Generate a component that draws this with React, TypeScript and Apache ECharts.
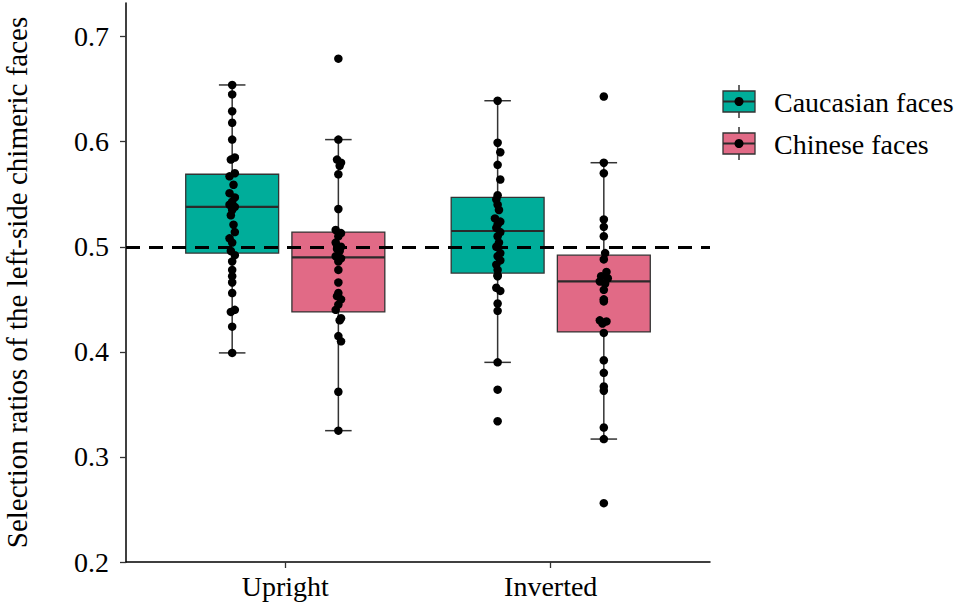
import React, { useEffect, useRef } from "react";
import * as echarts from "echarts";

const categories = ["Upright", "Inverted"];
const groupNames = ["Caucasian faces", "Chinese faces"];
const groupColors = ["#00AD9A", "#E16A86"];
const categoryPositions = [1, 2];
const dodge = [-0.2, 0.2];

// box statistics: [lower whisker, Q1, median, Q3, upper whisker]
const caucasianBoxes = [
  [0.399, 0.494, 0.538, 0.569, 0.654],
  [0.39, 0.475, 0.515, 0.547, 0.639],
];
const chineseBoxes = [
  [0.325, 0.438, 0.49, 0.514, 0.602],
  [0.317, 0.419, 0.467, 0.492, 0.58],
];

// individual participants
const caucasianUpright = [
  0.654, 0.645, 0.629, 0.618, 0.602, 0.585, 0.583, 0.57, 0.567, 0.559, 0.551, 0.547, 0.543, 0.54,
  0.538, 0.535, 0.53, 0.521, 0.514, 0.508, 0.504, 0.496, 0.492, 0.486, 0.478, 0.472, 0.466, 0.456,
  0.44, 0.438, 0.424, 0.399,
];
const caucasianUprightJitter = [
  0, 0, 0, 0, 0, 0.01, -0.005, 0.01, -0.01, 0.005, -0.01, 0.01, 0, -0.01, 0.01, 0, -0.005, 0.005,
  0.01, -0.01, 0, -0.005, 0.01, 0, 0, 0, 0, 0, 0.01, -0.005, 0, 0,
];
const chineseUpright = [
  0.679, 0.602, 0.583, 0.58, 0.577, 0.569, 0.536, 0.516, 0.513, 0.51, 0.504, 0.5, 0.498, 0.496,
  0.491, 0.489, 0.486, 0.478, 0.466, 0.456, 0.453, 0.45, 0.445, 0.44, 0.432, 0.43, 0.415, 0.41,
  0.362, 0.325,
];
const chineseUprightJitter = [
  0, 0, -0.005, 0.01, 0.005, 0, 0, -0.01, 0.01, 0, -0.01, 0.01, -0.005, 0.005, -0.01, 0.01, 0, 0,
  0, 0, -0.005, 0.01, 0, -0.01, 0.01, 0.005, 0, 0.01, 0, 0,
];
const caucasianInverted = [
  0.639, 0.599, 0.59, 0.578, 0.564, 0.549, 0.545, 0.54, 0.535, 0.527, 0.524, 0.521, 0.518, 0.514,
  0.51, 0.504, 0.5, 0.494, 0.491, 0.487, 0.483, 0.478, 0.473, 0.472, 0.461, 0.458, 0.446, 0.439,
  0.39, 0.364, 0.334,
];
const caucasianInvertedJitter = [
  0, 0, 0.01, 0, 0.01, 0, -0.005, 0, 0.005, -0.01, 0.01, 0, -0.005, 0.01, 0, 0.005, -0.005, 0.01,
  0, 0.01, -0.005, 0, 0, 0, -0.005, 0.01, 0, 0, 0, 0, 0,
];
const chineseInverted = [
  0.643, 0.58, 0.57, 0.526, 0.519, 0.51, 0.494, 0.488, 0.476, 0.472, 0.47, 0.467, 0.465, 0.459,
  0.45, 0.448, 0.43, 0.429, 0.427, 0.418, 0.392, 0.38, 0.367, 0.363, 0.328, 0.317, 0.256,
];
const chineseInvertedJitter = [
  0, 0, 0, 0, 0, 0, 0.005, 0, 0.01, -0.01, 0.015, -0.015, 0.005, 0, 0, 0, -0.015, 0.01, -0.005, 0,
  0, 0, 0, 0, 0, 0, 0,
];

const yTicks = [0.2, 0.3, 0.4, 0.5, 0.6, 0.7];
const referenceLine = 0.5;

const FONT = "'Liberation Serif', 'Times New Roman', serif";

export default function App() {
  const ref = useRef<HTMLDivElement>(null);

  useEffect(() => {
    if (!ref.current) return;
    const chart = echarts.init(ref.current, null, { renderer: "svg" });

    const boxSets = [caucasianBoxes, chineseBoxes];
    const pointSets = [
      [caucasianUpright, caucasianInverted],
      [chineseUpright, chineseInverted],
    ];
    const jitterSets = [
      [caucasianUprightJitter, caucasianInvertedJitter],
      [chineseUprightJitter, chineseInvertedJitter],
    ];

    const renderBox = (color: string) => (params: any, api: any) => {
      const x = api.value(0);
      const lo = api.coord([x, api.value(1)]);
      const q1 = api.coord([x, api.value(2)]);
      const med = api.coord([x, api.value(3)]);
      const q3 = api.coord([x, api.value(4)]);
      const hi = api.coord([x, api.value(5)]);
      const bw = api.size([0.35, 0])[0];
      const cw = api.size([0.1, 0])[0];
      const cx = lo[0];
      const stroke = "#333333";
      return {
        type: "group",
        children: [
          { type: "line", shape: { x1: cx, y1: hi[1], x2: cx, y2: lo[1] }, style: { stroke, lineWidth: 1.5 } },
          { type: "line", shape: { x1: cx - cw / 2, y1: hi[1], x2: cx + cw / 2, y2: hi[1] }, style: { stroke, lineWidth: 1.5 } },
          { type: "line", shape: { x1: cx - cw / 2, y1: lo[1], x2: cx + cw / 2, y2: lo[1] }, style: { stroke, lineWidth: 1.5 } },
          {
            type: "rect",
            shape: { x: cx - bw / 2, y: q3[1], width: bw, height: q1[1] - q3[1] },
            style: { fill: color, stroke, lineWidth: 1.3 },
          },
          {
            type: "line",
            shape: { x1: cx - bw / 2, y1: med[1], x2: cx + bw / 2, y2: med[1] },
            style: { stroke: "#2a2a2a", lineWidth: 2.2 },
          },
        ],
      };
    };

    const series: any[] = [];
    groupNames.forEach((name, g) => {
      series.push({
        type: "custom",
        name,
        renderItem: renderBox(groupColors[g]),
        encode: { x: 0, y: [1, 2, 3, 4, 5] },
        data: boxSets[g].map((b, c) => [categoryPositions[c] + dodge[g], ...b]),
        z: 2,
        silent: true,
        ...(g === 1
          ? {
              markLine: {
                silent: true,
                symbol: ["none", "none"],
                label: { show: false },
                lineStyle: { type: [14, 9], width: 3, color: "#000" },
                data: [{ yAxis: referenceLine }],
                z: 3,
              },
            }
          : {}),
      });
    });
    groupNames.forEach((name, g) => {
      const data: number[][] = [];
      categories.forEach((_, c) => {
        pointSets[g][c].forEach((v, i) => {
          data.push([categoryPositions[c] + dodge[g] + (jitterSets[g][c][i] || 0), v]);
        });
      });
      series.push({
        type: "scatter",
        name: name + " points",
        data,
        symbolSize: 8.5,
        itemStyle: { color: "#000", opacity: 1 },
        z: 5,
        silent: true,
      });
    });

    const legendGraphics = groupNames.map((name, i) => ({
      type: "group",
      x: 723,
      y: 85 + i * 42,
      children: [
        { type: "line", shape: { x1: 16, y1: 0, x2: 16, y2: 6 }, style: { stroke: "#333", lineWidth: 1.5 } },
        { type: "line", shape: { x1: 16, y1: 27, x2: 16, y2: 33 }, style: { stroke: "#333", lineWidth: 1.5 } },
        {
          type: "rect",
          shape: { x: 0, y: 6, width: 32, height: 21 },
          style: { fill: groupColors[i], stroke: "#333", lineWidth: 1.3 },
        },
        { type: "line", shape: { x1: 0, y1: 16.5, x2: 32, y2: 16.5 }, style: { stroke: "#2a2a2a", lineWidth: 2 } },
        { type: "circle", shape: { cx: 16, cy: 16.5, r: 4.5 }, style: { fill: "#000" } },
        {
          type: "text",
          x: 51,
          y: 17,
          style: {
            text: name,
            font: `28px ${FONT}`,
            fill: "#000",
            textVerticalAlign: "middle",
            verticalAlign: "middle",
          },
        },
      ],
    }));

    chart.setOption({
      animation: false,
      grid: { left: 126, right: 247, top: 3, bottom: 44, containLabel: false, outerBoundsMode: "none" },
      xAxis: {
        type: "value",
        min: 0.4,
        max: 2.6,
        splitLine: { show: false },
        axisLine: { show: true, lineStyle: { color: "#000", width: 1.5 } },
        axisTick: { show: true, customValues: categoryPositions, length: 6, lineStyle: { color: "#333", width: 1.3 } },
        axisLabel: {
          customValues: categoryPositions,
          formatter: (v: number) => categories[categoryPositions.indexOf(v)] ?? "",
          color: "#000",
          fontFamily: FONT,
          fontSize: 28,
          margin: 10,
        },
      },
      yAxis: {
        type: "value",
        min: yTicks[0],
        max: 0.732,
        interval: 0.1,
        splitLine: { show: false },
        axisLine: { show: true, lineStyle: { color: "#000", width: 1.5 } },
        axisTick: { show: true, length: 6, lineStyle: { color: "#333", width: 1.3 } },
        axisLabel: {
          color: "#000",
          fontFamily: FONT,
          fontSize: 28,
          margin: 17,
          showMaxLabel: false,
          formatter: (v: number) => {
            const t = yTicks.find((k) => Math.abs(k - v) < 1e-6);
            return t === undefined ? "" : t.toFixed(1);
          },
        },
        name: "Selection ratios of the left-side chimeric faces",
        nameLocation: "middle",
        nameGap: 95,
        nameTextStyle: { color: "#000", fontFamily: FONT, fontSize: 29 },
      },
      graphic: legendGraphics,
      series,
    });

    return () => chart.dispose();
  }, []);

  return (
    <div
      ref={ref}
      style={{ position: "fixed", left: 0, top: 0, width: 957, height: 606, background: "#fff" }}
    />
  );
}
